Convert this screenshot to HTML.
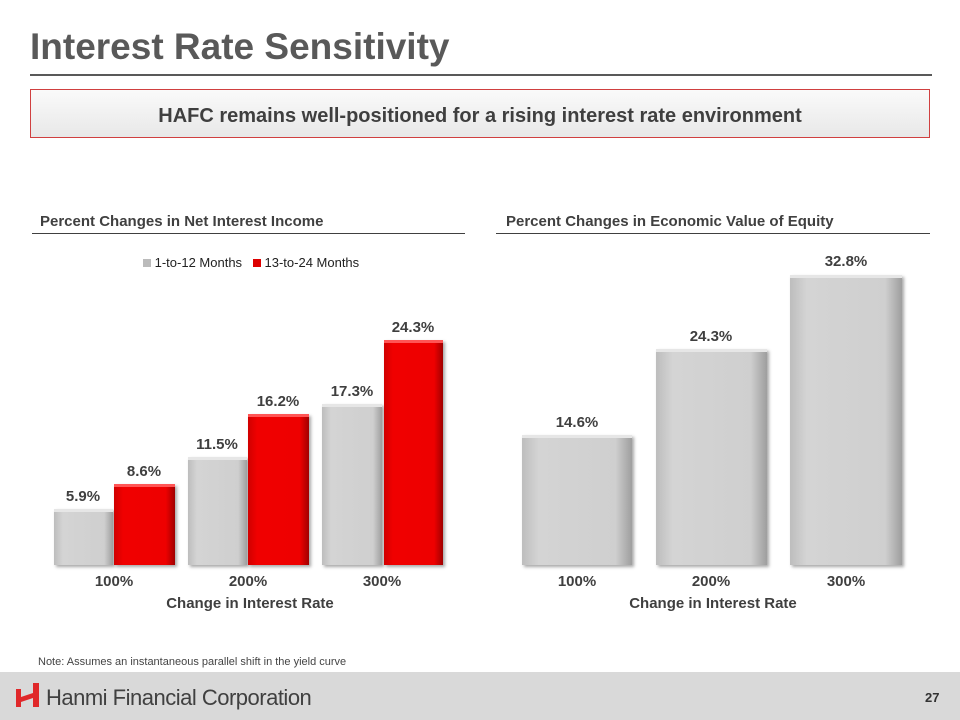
<!DOCTYPE html>
<html><head><style>
body{margin:0;width:960px;height:720px;position:relative;background:#fff;font-family:"Liberation Sans",Arial,sans-serif;overflow:hidden}
.a{position:absolute}
.t{font-weight:bold;color:#3f3f3f;font-size:15px;text-align:center;width:80px}
.g{background:linear-gradient(90deg,#bdbdbd,#d4d4d4 15%,#cfcfcf 85%,#9e9e9e);border-top:3px solid #e6e6e6;box-shadow:2px 2px 3px rgba(0,0,0,.35)}
.r{background:linear-gradient(90deg,#d00000,#f00000 15%,#ee0000 85%,#a00000);border-top:3px solid #f55;box-shadow:2px 2px 3px rgba(0,0,0,.35)}
.x{font-weight:bold;color:#3f3f3f;font-size:15px;text-align:center;width:80px;top:573px}
</style></head><body>
<div class="a" style="left:30px;top:26px;font-size:37px;font-weight:bold;color:#595959">Interest Rate Sensitivity</div>
<div class="a" style="left:30px;top:74px;width:902px;height:2px;background:#595959"></div>
<div class="a" style="left:30px;top:89px;width:898px;height:47px;border:1px solid #d04040;background:linear-gradient(#fafafa,#e8e8e8);text-align:center;line-height:52px;font-size:20px;font-weight:bold;color:#3f3f3f">HAFC remains well-positioned for a rising interest rate environment</div>
<div class="a" style="left:40px;top:213px;font-size:15px;font-weight:bold;color:#404040">Percent Changes in Net Interest Income</div>
<div class="a" style="left:32px;top:233px;width:433px;height:1px;background:#404040"></div>
<div class="a" style="left:506px;top:213px;font-size:15px;font-weight:bold;color:#404040">Percent Changes in Economic Value of Equity</div>
<div class="a" style="left:496px;top:233px;width:434px;height:1px;background:#404040"></div>
<div class="a" style="left:143px;top:255px;font-size:13px;color:#222"><span style="display:inline-block;width:8px;height:8px;background:#bbb"></span> 1-to-12 Months &nbsp;&nbsp;<span style="display:inline-block;width:8px;height:8px;background:#d00"></span> 13-to-24 Months</div>
<div class="a g" style="left:54px;top:509px;width:59px;height:53px"></div>
<div class="a r" style="left:114px;top:484px;width:61px;height:78px"></div>
<div class="a g" style="left:188px;top:457px;width:59px;height:105px"></div>
<div class="a r" style="left:248px;top:414px;width:61px;height:148px"></div>
<div class="a g" style="left:322px;top:404px;width:60px;height:158px"></div>
<div class="a r" style="left:384px;top:340px;width:59px;height:222px"></div>
<div class="a t" style="left:43px;top:488px">5.9%</div>
<div class="a t" style="left:104px;top:463px">8.6%</div>
<div class="a t" style="left:177px;top:436px">11.5%</div>
<div class="a t" style="left:238px;top:393px">16.2%</div>
<div class="a t" style="left:312px;top:383px">17.3%</div>
<div class="a t" style="left:373px;top:319px">24.3%</div>
<div class="a g" style="left:522px;top:435px;width:110px;height:127px"></div>
<div class="a g" style="left:656px;top:349px;width:111px;height:213px"></div>
<div class="a g" style="left:790px;top:275px;width:112px;height:287px"></div>
<div class="a t" style="left:537px;top:414px">14.6%</div>
<div class="a t" style="left:671px;top:328px">24.3%</div>
<div class="a t" style="left:806px;top:253px">32.8%</div>
<div class="a x" style="left:74px">100%</div>
<div class="a x" style="left:208px">200%</div>
<div class="a x" style="left:342px">300%</div>
<div class="a x" style="left:537px">100%</div>
<div class="a x" style="left:671px">200%</div>
<div class="a x" style="left:806px">300%</div>
<div class="a" style="left:120px;top:595px;width:260px;text-align:center;font-size:15px;font-weight:bold;color:#3f3f3f">Change in Interest Rate</div>
<div class="a" style="left:583px;top:595px;width:260px;text-align:center;font-size:15px;font-weight:bold;color:#3f3f3f">Change in Interest Rate</div>
<div class="a" style="left:38px;top:656px;font-size:11px;color:#444">Note: Assumes an instantaneous parallel shift in the yield curve</div>
<div class="a" style="left:0;top:672px;width:960px;height:48px;background:#d9d9d9"></div>
<svg class="a" style="left:15px;top:683px" width="26" height="26"><polygon points="1,6 6,6 6,14 18,10 18,0 24,0 24,24 18,24 18,15 6,19 6,24 1,24" fill="#e0282a"/></svg>
<div class="a" style="left:46px;top:685px;font-size:22px;color:#404040;letter-spacing:-0.5px">Hanmi Financial Corporation</div>
<div class="a" style="left:925px;top:690px;font-size:13px;font-weight:bold;color:#333">27</div>
</body></html>
